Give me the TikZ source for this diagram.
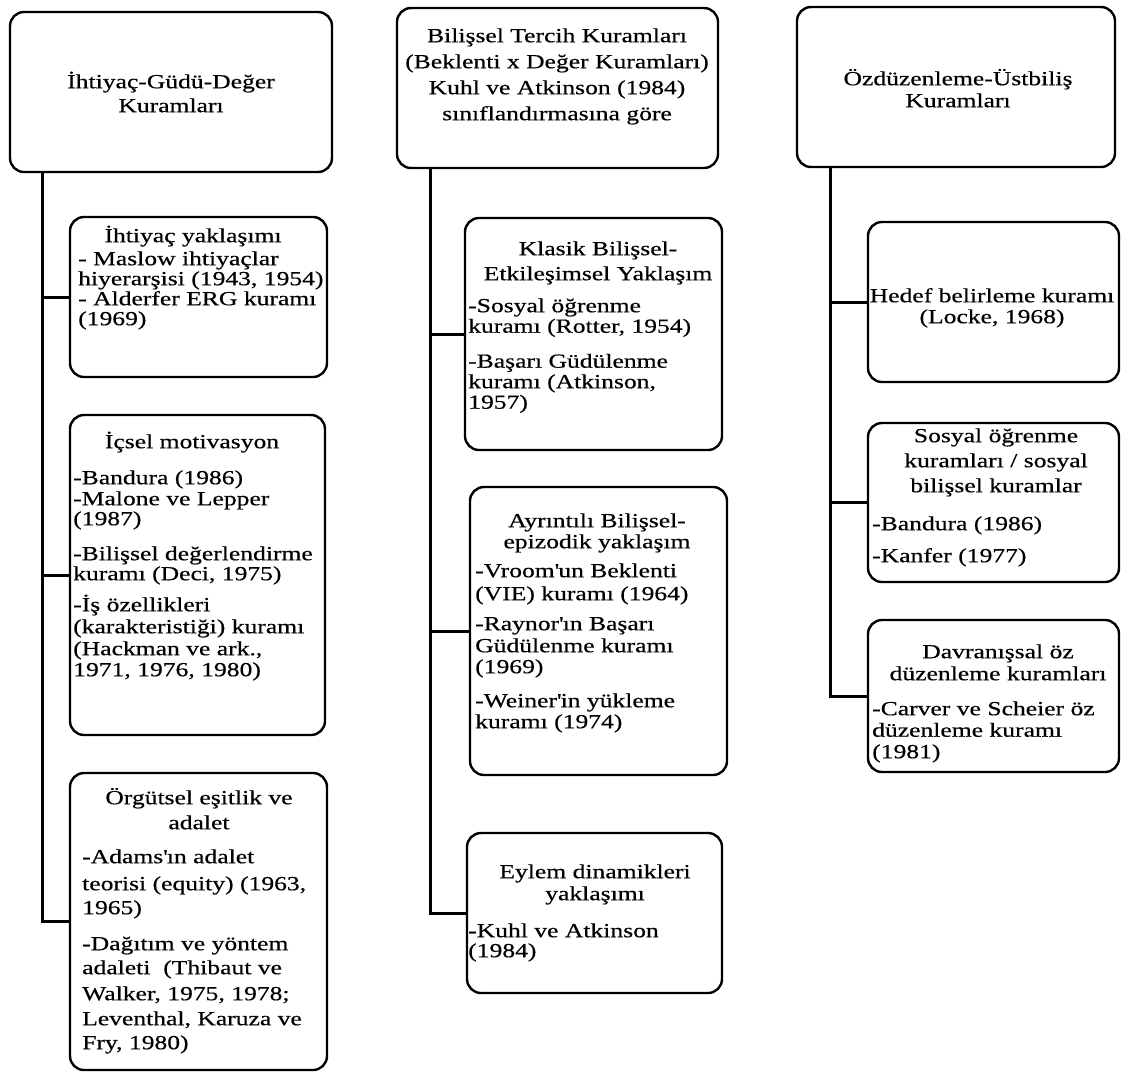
\documentclass[tikz,border=0pt]{standalone}
\usepackage{fontspec}
\setmainfont{Liberation Serif}[FakeStretch=1.28,FakeBold=0.5]
\newcommand{\mysz}[1]{\fontsize{20pt}{#1pt}\selectfont\lineskiplimit=-40pt\lineskip=0pt}
\newcommand{\fr}{\rule{0pt}{18pt}}
\newcommand{\apo}{\textquotesingle}
\begin{document}
\begin{tikzpicture}[x=1pt,y=-1pt,
  box/.style={draw=black,line width=2.4pt,rounded corners=14pt,inner sep=0pt},
  conn/.style={draw=black,line width=3pt},
  ttl/.style={inner sep=0pt,align=center,anchor=north},
  bdy/.style={inner sep=0pt,align=left,anchor=north west}]
\useasboundingbox (0,0) rectangle (1121,1072);
% boxes
\node[box,minimum width=322pt,minimum height=160pt] (H1) at (171,92) {};
\node[box,minimum width=321pt,minimum height=160pt] (H2) at (557.5,88) {};
\node[box,minimum width=318pt,minimum height=160pt] (H3) at (956,87) {};
\node[box,minimum width=257pt,minimum height=160pt] (L1) at (198.5,297) {};
\node[box,minimum width=255pt,minimum height=320pt] (L2) at (197.5,575) {};
\node[box,minimum width=257pt,minimum height=297pt] (L3) at (198.5,921.5) {};
\node[box,minimum width=257pt,minimum height=232pt] (M1) at (593.5,334) {};
\node[box,minimum width=257pt,minimum height=288pt] (M2) at (598.5,631) {};
\node[box,minimum width=255pt,minimum height=160pt] (M3) at (594.5,913) {};
\node[box,minimum width=251pt,minimum height=160pt] (R1) at (993.5,302) {};
\node[box,minimum width=251pt,minimum height=159pt] (R2) at (993.5,502.5) {};
\node[box,minimum width=251pt,minimum height=152pt] (R3) at (993.5,696) {};
% trunks
\coordinate (T1) at (42,0);
\coordinate (T2) at (430,0);
\coordinate (T3) at (830,0);
\draw[conn] (H1.south -| T1) |- (L3.west);
\draw[conn] (T1 |- L1.west) -- (L1.west);
\draw[conn] (T1 |- L2.west) -- (L2.west);
\draw[conn] (H2.south -| T2) |- (M3.west);
\draw[conn] (T2 |- M1.west) -- (M1.west);
\draw[conn] (T2 |- M2.west) -- (M2.west);
\draw[conn] (H3.south -| T3) |- (R3.west);
\draw[conn] (T3 |- R1.west) -- (R1.west);
\draw[conn] (T3 |- R2.west) -- (R2.west);
% header texts
\node[ttl,font=\mysz{24}] (H1t) at (171,70) {\fr İhtiyaç-Güdü-Değer\\Kuramları};
\node[ttl,font=\mysz{26}] (H2t) at (557,24) {\fr Bilişsel Tercih Kuramları\\(Beklenti x Değer Kuramları)\\Kuhl ve Atkinson (1984)\\sınıflandırmasına göre};
\node[ttl,font=\mysz{22}] (H3t) at (958,67) {\fr Özdüzenleme-Üstbiliş\\Kuramları};
% left column
\node[ttl,font=\mysz{20}] (L1t) at (193,224) {\fr İhtiyaç yaklaşımı};
\node[bdy,font=\mysz{20}] (L1b) at (78,247) {\fr - Maslow ihtiyaçlar\\hiyerarşisi (1943, 1954)\\- Alderfer ERG kuramı\\(1969)};
\node[ttl,font=\mysz{20}] (L2t) at (192,430) {\fr İçsel motivasyon};
\node[bdy,font=\mysz{20}] (L2b) at (73,466) {\fr -Bandura (1986)\\[1pt]-Malone ve Lepper\\(1987)\\[15pt]-Bilişsel değerlendirme\\kuramı (Deci, 1975)\\[11pt]-İş özellikleri\\[2pt](karakteristiği) kuramı\\[2pt](Hackman ve ark.,\\[1pt]1971, 1976, 1980)};
\node[ttl,font=\mysz{25}] (L3t) at (199,786) {\fr Örgütsel eşitlik ve\\adalet};
\node[bdy,font=\mysz{25}] (L3b) at (82,845) {\fr -Adams\apo ın adalet\\[2pt]teorisi (equity) (1963,\\[-1pt]1965)\\[11pt]-Dağıtım ve yöntem\\[-1pt]adaleti\ \ (Thibaut ve\\[1pt]Walker, 1975, 1978;\\Leventhal, Karuza ve\\[-1pt]Fry, 1980)};
% middle column
\node[ttl,font=\mysz{25}] (M1t) at (598,237) {\fr Klasik Bilişsel-\\Etkileşimsel Yaklaşım};
\node[bdy,font=\mysz{20.5}] (M1b) at (468,294) {\fr -Sosyal öğrenme\\kuramı (Rotter, 1954)\\[14.5pt]-Başarı Güdülenme\\kuramı (Atkinson,\\1957)};
\node[ttl,font=\mysz{21}] (M2t) at (597,509) {\fr Ayrıntılı Bilişsel-\\epizodik yaklaşım};
\node[bdy,font=\mysz{22}] (M2b) at (475,559) {\fr -Vroom\apo un Beklenti\\[1pt](VIE) kuramı (1964)\\[8pt]-Raynor\apo ın Başarı\\Güdülenme kuramı\\[-1pt](1969)\\[12pt]-Weiner\apo in yükleme\\[-1pt]kuramı (1974)};
\node[ttl,font=\mysz{22}] (M3t) at (595,860) {\fr Eylem dinamikleri\\yaklaşımı};
\node[bdy,font=\mysz{20}] (M3b) at (468,919) {\fr -Kuhl ve Atkinson\\(1984)};
% right column
\node[ttl,font=\mysz{21}] (R1t) at (992,284) {\fr Hedef belirleme kuramı\\(Locke, 1968)};
\node[ttl,font=\mysz{25}] (R2t) at (996,424) {\fr Sosyal öğrenme\\kuramları / sosyal\\bilişsel kuramlar};
\node[bdy,font=\mysz{32}] (R2b) at (872,512) {\fr -Bandura (1986)\\-Kanfer (1977)};
\node[ttl,font=\mysz{22}] (R3t) at (998,640) {\fr Davranışsal öz\\düzenleme kuramları};
\node[bdy,font=\mysz{21.5}] (R3b) at (872,697) {\fr -Carver ve Scheier öz\\düzenleme kuramı\\(1981)};
\end{tikzpicture}
\end{document}
